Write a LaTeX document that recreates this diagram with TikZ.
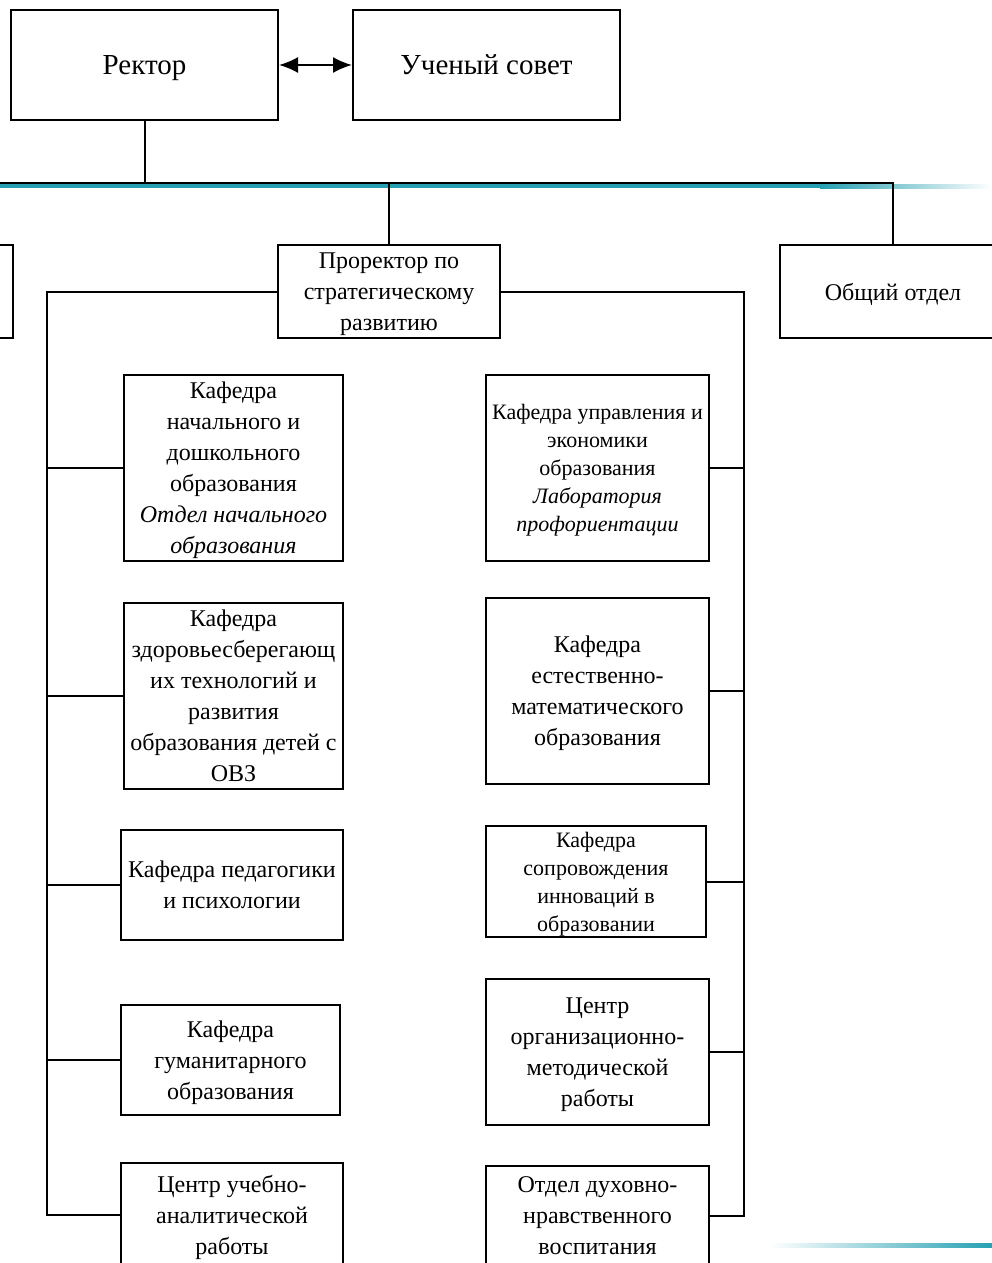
\documentclass[tikz,border=0pt]{standalone}
\usepackage{fontspec}
\setmainfont{Liberation Serif}
\usetikzlibrary{arrows.meta}
\definecolor{teal1}{RGB}{38,160,178}
\tikzset{
  box/.style={draw, line width=2pt, inner sep=0pt, align=center, fill=white, text depth=0pt},
  fbig/.style={font=\fontsize{29}{34}\selectfont},
  fmid/.style={font=\fontsize{24}{31}\selectfont},
  fsm/.style={font=\fontsize{22}{28}\selectfont},
  link/.style={line width=2pt}
}
\begin{document}
\begin{tikzpicture}[x=1pt,y=-1pt]
\useasboundingbox (0,0) rectangle (992,1263);
\clip (0,0) rectangle (992,1263);
% decorative teal lines
\fill[teal1] (0,184) rectangle (820,188);
\shade[left color=teal1, right color=white] (820,184) rectangle (992,188);
\shade[left color=white, right color=teal1] (770,1243) rectangle (992,1247);
% top
\node[box, fbig, minimum width=267pt, minimum height=110pt] (r) at (144.5,65) {Ректор};
\node[box, fbig, minimum width=267pt, minimum height=110pt] (us) at (486.5,65) {Ученый совет};
\draw[link, {Latex[length=19pt,width=16pt]}-{Latex[length=19pt,width=16pt]}] (r.east) -- (us.west);
% second row
\node[box, fmid, minimum width=222pt, minimum height=93pt] (pr) at (389,291.5) {Проректор по\\стратегическому\\развитию};
\node[box, fmid, minimum width=226pt, minimum height=93pt] (og) at (893,291.5) {Общий отдел};
\node[box, minimum width=80pt, minimum height=93pt] (lp) at (-27,291.5) {};
\coordinate (busL) at (0,182.5);
\draw[link] (busL) -- (og.north |- busL) -- (og.north);
\draw[link] (r.south) -- (r.south |- busL);
\draw[link] (pr.north) -- (pr.north |- busL);
% left column
\node[box, fmid, minimum width=219pt, minimum height=186pt] (l1) at (233.5,468) {Кафедра\\начального и\\дошкольного\\образования\\\textit{Отдел начального}\\\textit{образования}};
\node[box, fmid, minimum width=219pt, minimum height=186pt] (l2) at (233.5,696) {Кафедра\\здоровьесберегающ\\их технологий и\\развития\\образования детей с\\ОВЗ};
\node[box, fmid, minimum width=222pt, minimum height=110pt] (l3) at (232,885) {Кафедра педагогики\\и психологии};
\node[box, fmid, minimum width=219pt, minimum height=110pt] (l4) at (230.5,1060) {Кафедра\\гуманитарного\\образования};
\node[box, fmid, minimum width=222pt, minimum height=104pt] (l5) at (232,1215) {Центр учебно-\\аналитической\\работы};
% right column
\node[box, fsm, minimum width=223pt, minimum height=186pt] (r1) at (597.5,468) {Кафедра управления и\\экономики\\образования\\\textit{Лаборатория}\\\textit{профориентации}};
\node[box, fmid, minimum width=223pt, minimum height=186pt] (r2) at (597.5,691) {Кафедра\\естественно-\\математического\\образования};
\node[box, fsm, minimum width=220pt, minimum height=111pt] (r3) at (596,881.5) {Кафедра\\сопровождения\\инноваций в\\образовании};
\node[box, fmid, minimum width=223pt, minimum height=146pt] (r4) at (597.5,1052) {Центр\\организационно-\\методической\\работы};
\node[box, fmid, minimum width=223pt, minimum height=100pt] (r5) at (597.5,1216) {Отдел духовно-\\нравственного\\воспитания};
% buses
\coordinate (lb) at (47,0);
\coordinate (rb) at (744,0);
\draw[link] (pr.west) -| (lb |- l5.west) -- (l5.west);
\foreach \n in {l1,l2,l3,l4} \draw[link] (lb |- \n.west) -- (\n.west);
\draw[link] (pr.east) -| (rb |- r5.east) -- (r5.east);
\foreach \n in {r1,r2,r3,r4} \draw[link] (rb |- \n.east) -- (\n.east);
\end{tikzpicture}
\end{document}
